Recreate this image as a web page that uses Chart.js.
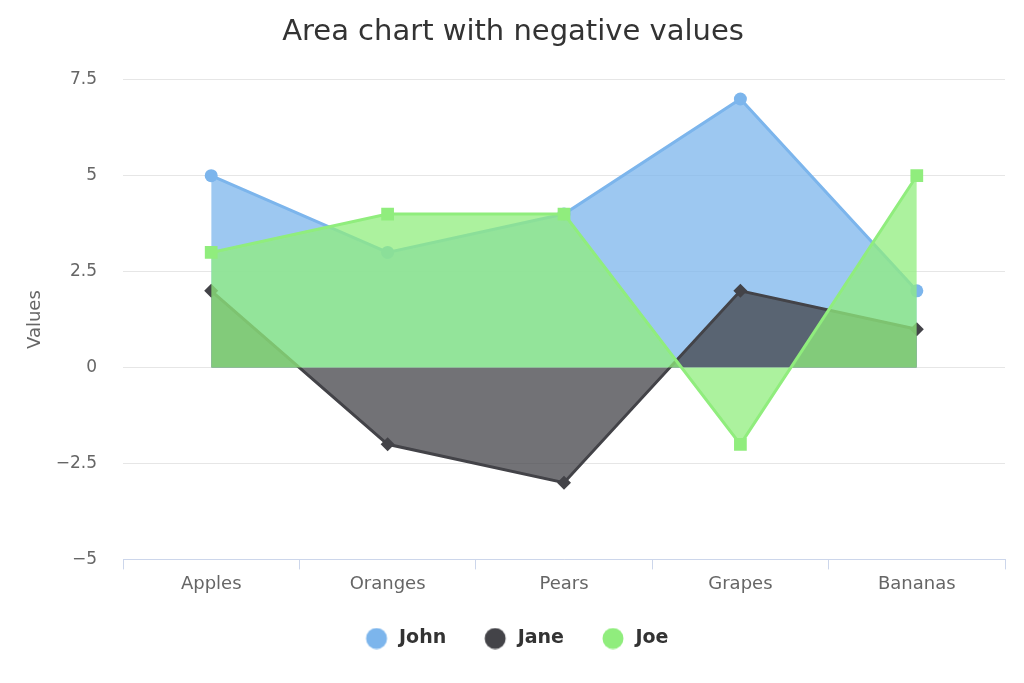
<!DOCTYPE html>
<html>
<head>
<meta charset="utf-8">
<script src="https://cdn.jsdelivr.net/npm/chart.js@4/dist/chart.umd.min.js"></script>
<style>
  html, body { margin: 0; padding: 0; background: #fff; }
  #wrap { width: 1024px; height: 683px; }
</style>
</head>
<body>
<div id="wrap"><canvas id="myChart" width="1024" height="683"></canvas></div>
<script>
const categories = ['Apples', 'Oranges', 'Pears', 'Grapes', 'Bananas']
const john = [5, 3, 4, 7, 2]
const jane = [2, -2, -3, 2, 1]
const joe = [3, 4, 4, -2, 5]
const yTicks = [-5, -2.5, 0, 2.5, 5, 7.5]

const FONT = "'DejaVu Sans', sans-serif"

function series(label, data, color, fill, style, radius, order) {
	return {
		label: label,
		data: data,
		borderColor: color,
		backgroundColor: fill,
		borderWidth: 3,
		fill: 'origin',
		tension: 0,
		pointStyle: style,
		pointRadius: radius,
		pointHoverRadius: radius,
		pointBackgroundColor: color,
		pointBorderWidth: 0,
		order: order,
	}
}

// round legend symbol, drawn off-centre so the gap to the previous item is wider
function legendDot(color) {
	const c = document.createElement('canvas')
	c.width = 32
	c.height = 22
	const g = c.getContext('2d')
	g.fillStyle = color
	g.beginPath()
	g.arc(19, 11, 10.5, 0, Math.PI * 2)
	g.fill()
	return c
}

const chartConfig = {
	type: 'line',
	data: {
		labels: categories,
		datasets: [
			series('John', john, '#7cb5ec', 'rgba(124,181,236,0.75)', 'circle', 6.5, 3),
			series('Jane', jane, '#434348', 'rgba(67,67,72,0.75)', 'rectRot', 7, 2),
			series('Joe', joe, '#90ed7d', 'rgba(144,237,125,0.75)', 'rect', 9, 1),
		],
	},
	options: {
		responsive: false,
		animation: false,
		layout: { padding: { left: 21, right: 19, top: 0, bottom: 25 } },
		plugins: {
			title: {
				display: true,
				text: 'Area chart with negative values',
				color: '#333333',
				font: { family: FONT, size: 29, weight: 'normal' },
				padding: { top: 15, bottom: 30 },
			},
			legend: {
				position: 'bottom',
				labels: {
					color: '#333333',
					font: { family: FONT, size: 19, weight: 'bold' },
					usePointStyle: true,
					pointStyleWidth: 32,
					boxHeight: 14,
					padding: 30,
					sort: (a, b) => a.datasetIndex - b.datasetIndex,
					generateLabels: (chart) => {
						const items = Chart.defaults.plugins.legend.labels.generateLabels(chart)
						items.forEach((it) => {
							const ds = chart.data.datasets[it.datasetIndex]
							it.pointStyle = legendDot(ds.borderColor)
							it.lineWidth = 0
						})
						return items
					},
				},
			},
			tooltip: { enabled: false },
		},
		scales: {
			x: {
				offset: true,
				grid: {
					offset: true,
					drawOnChartArea: false,
					color: '#ccd6eb',
					tickLength: 10,
					lineWidth: 1,
				},
				border: { color: '#ccd6eb', width: 1 },
				ticks: {
					color: '#666666',
					font: { family: FONT, size: 18 },
					padding: 4,
				},
			},
			y: {
				min: -5,
				max: 7.5,
				afterBuildTicks: (scale) => {
					scale.ticks = yTicks.map((v) => ({ value: v }))
				},
				afterFit: (scale) => {
					scale.width = 102
				},
				grid: { color: '#e6e6e6', drawTicks: false, lineWidth: 1 },
				border: { display: false },
				ticks: {
					color: '#666666',
					font: { family: FONT, size: 17 },
					padding: 26,
					callback: (v) => String(v).replace('-', '\u2212'),
				},
				title: {
					display: true,
					text: 'Values',
					color: '#666666',
					font: { family: FONT, size: 18 },
				},
			},
		},
	},
}

window.onload = function () {
	const ctx = document.getElementById('myChart').getContext('2d')
	new Chart(ctx, chartConfig)
}
</script>
</body>
</html>
